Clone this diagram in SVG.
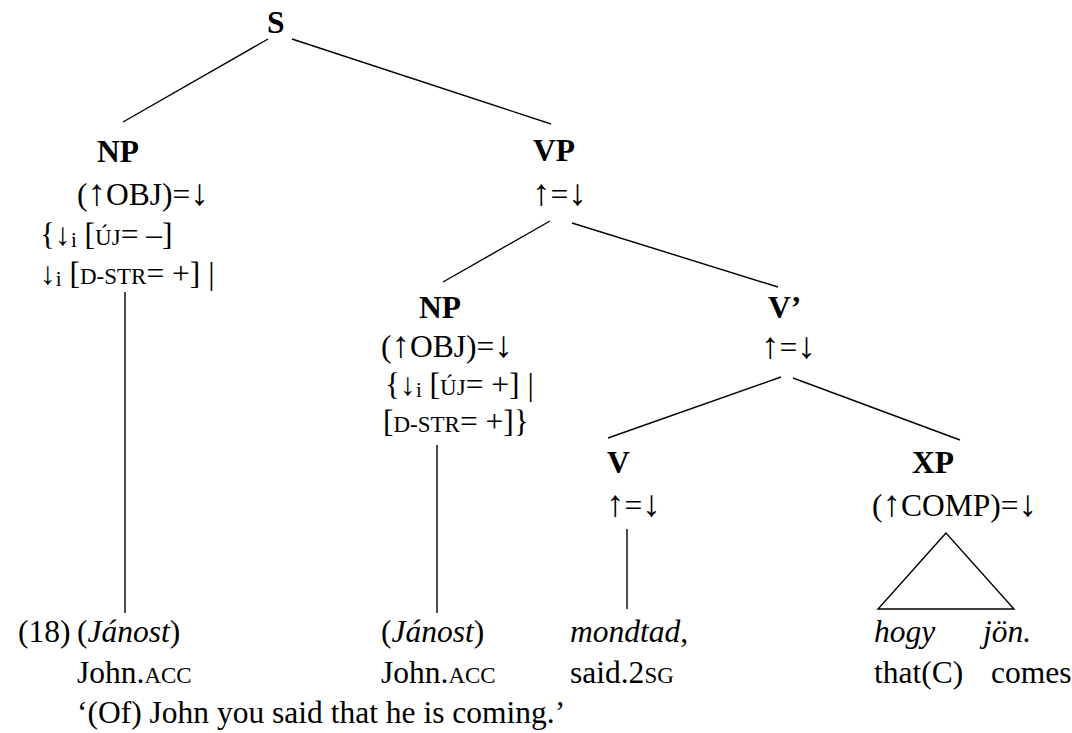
<svg xmlns="http://www.w3.org/2000/svg" width="1072" height="733" viewBox="0 0 1072 733">
<style>
text{font-family:"Liberation Serif","Times New Roman",serif;font-size:31.5px;fill:#000}
.b{font-weight:bold}
.i{font-style:italic}
.sc{font-size:23px}
.sub{font-size:21px}
.ar{font-size:37px}
.edge{stroke:#000;stroke-width:1.4;fill:none}
</style>
<rect width="1072" height="733" fill="#fff"/>
<g id="connectors">
<line class="edge" x1="268" y1="39" x2="123" y2="122"/>
<line class="edge" x1="292" y1="39" x2="551" y2="124"/>
<line class="edge" x1="550" y1="221" x2="443" y2="282"/>
<line class="edge" x1="572" y1="223" x2="778" y2="287"/>
<line class="edge" x1="781" y1="377" x2="608" y2="438"/>
<line class="edge" x1="793" y1="378" x2="960" y2="440"/>
<line class="edge" x1="125" y1="292" x2="125" y2="613"/>
<line class="edge" x1="437" y1="445" x2="437" y2="613"/>
<line class="edge" x1="627" y1="529" x2="627" y2="609"/>
<polygon class="edge" points="946,533 878,609 1014,609"/>
</g>
<g id="node-S"><text class="b" x="267" y="33">S</text></g>
<g id="node-NP1">
<text class="b" x="97" y="162">NP</text>
<text x="77" y="205">(<tspan class="ar">↑</tspan>OBJ)=<tspan class="ar">↓</tspan></text>
<text x="40" y="245">{↓<tspan class="sub" dy="2">i</tspan><tspan dy="-2"> [</tspan><tspan class="sc">ÚJ</tspan>= –]</text>
<text x="40" y="284">↓<tspan class="sub" dy="2">i</tspan><tspan dy="-2"> [</tspan><tspan class="sc">D-STR</tspan>= +] |</text>
</g>
<g id="node-VP">
<text class="b" x="533" y="161">VP</text>
<text x="532" y="205"><tspan class="ar">↑</tspan>=<tspan class="ar">↓</tspan></text>
</g>
<g id="node-NP2">
<text class="b" x="419" y="318">NP</text>
<text x="381" y="357">(<tspan class="ar">↑</tspan>OBJ)=<tspan class="ar">↓</tspan></text>
<text x="385" y="395">{↓<tspan class="sub" dy="2">i</tspan><tspan dy="-2"> [</tspan><tspan class="sc">ÚJ</tspan>= +] |</text>
<text x="383" y="432">[<tspan class="sc">D-STR</tspan>= +]}</text>
</g>
<g id="node-Vbar">
<text class="b" x="768" y="318">V’</text>
<text x="761" y="358"><tspan class="ar">↑</tspan>=<tspan class="ar">↓</tspan></text>
</g>
<g id="node-V">
<text class="b" x="607" y="473">V</text>
<text x="606" y="516"><tspan class="ar">↑</tspan>=<tspan class="ar">↓</tspan></text>
</g>
<g id="node-XP">
<text class="b" x="912" y="473">XP</text>
<text x="872" y="516">(<tspan class="ar">↑</tspan>COMP)=<tspan class="ar">↓</tspan></text>
</g>
<g id="gloss">
<text x="18" y="642">(18)</text>
<text x="77" y="642">(<tspan class="i">Jánost</tspan>)</text>
<text x="77" y="683">John.<tspan class="sc">ACC</tspan></text>
<text x="381" y="642">(<tspan class="i">Jánost</tspan>)</text>
<text x="381" y="683">John.<tspan class="sc">ACC</tspan></text>
<text x="570" y="642"><tspan class="i">mondtad</tspan>,</text>
<text x="570" y="683">said.2<tspan class="sc">SG</tspan></text>
<text class="i" x="874" y="642">hogy</text>
<text class="i" x="983" y="642">jön.</text>
<text x="874" y="683">that(C)</text>
<text x="991" y="683">comes</text>
<text x="77" y="723">‘(Of) John you said that he is coming.’</text>
</g>
</svg>
